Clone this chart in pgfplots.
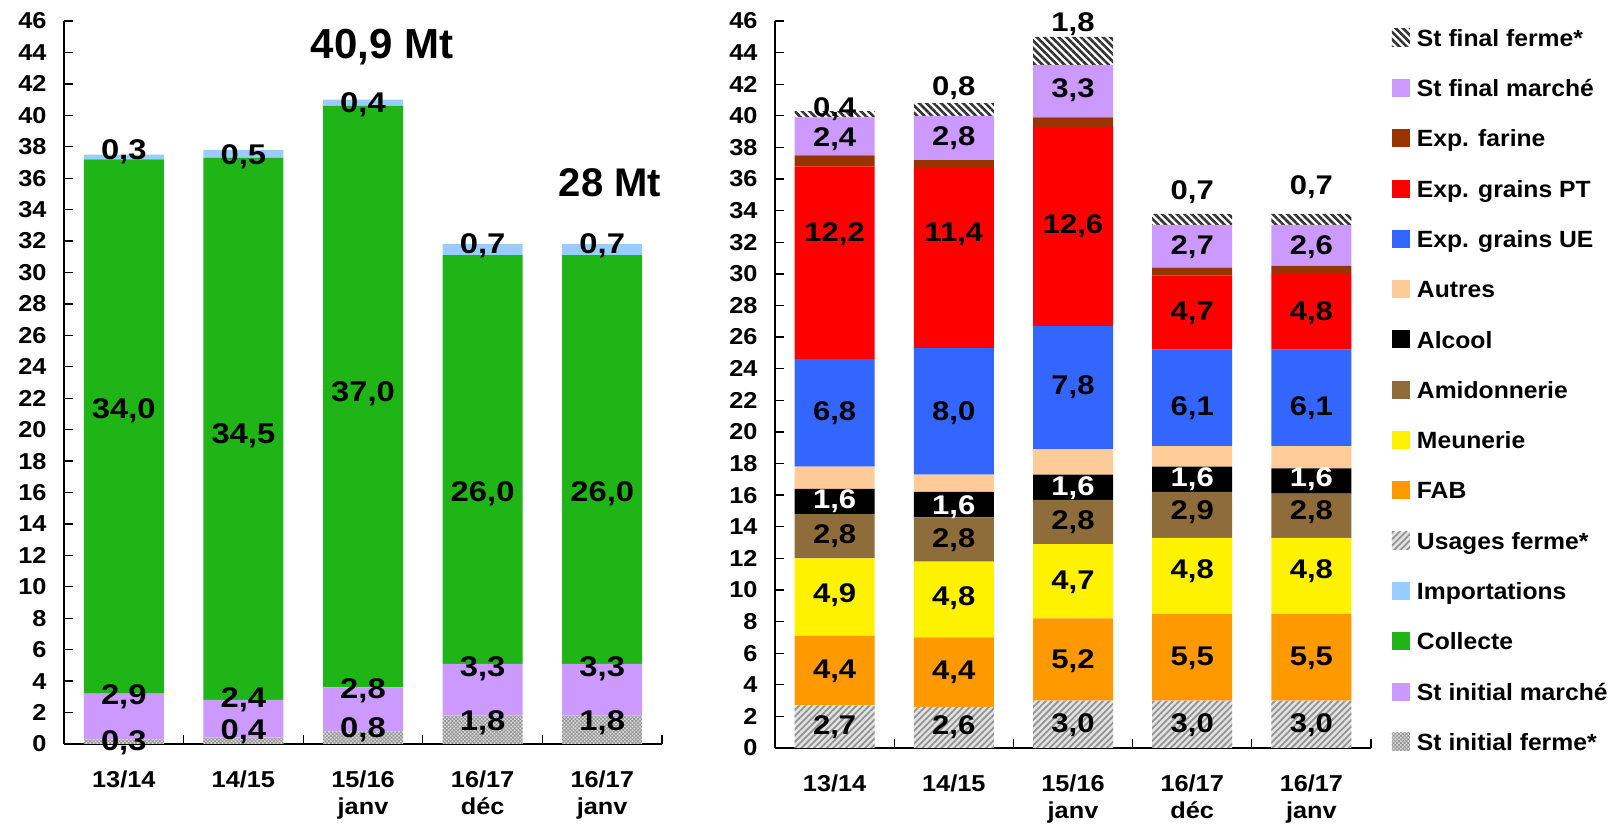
\documentclass[border=0pt]{standalone}
\usepackage{fontspec}
\setmainfont{Liberation Sans}
\newfontfamily\wide{Liberation Sans}[FakeStretch=1.1]
\newfontfamily\legfont{Liberation Sans}[FakeStretch=1.05]
\newfontfamily\labfont{Liberation Sans}[FakeStretch=1.15]
\usepackage{pgfplots}
\pgfplotsset{compat=1.18}
\usetikzlibrary{patterns.meta}

\definecolor{cGreen}{HTML}{1FB516}
\definecolor{cLav}{HTML}{CC99FF}
\definecolor{cImp}{HTML}{99CCFF}
\definecolor{cFAB}{HTML}{FF9900}
\definecolor{cMeun}{HTML}{FFF200}
\definecolor{cAmid}{HTML}{8E6D3B}
\definecolor{cAutres}{HTML}{FFCC99}
\definecolor{cUE}{HTML}{3366FF}
\definecolor{cPT}{HTML}{FF0000}
\definecolor{cFar}{HTML}{993300}

\tikzset{
  iniferme/.style={fill=gray!30, postaction={pattern={Hatch[angle=45,distance=2.6pt,line width=0.7pt]}, pattern color=gray!85}},
  usferme/.style={fill=gray!22, postaction={pattern={Lines[angle=45,distance=4.5pt,line width=1.8pt]}, pattern color=gray!85}},
  finferme/.style={fill=white, postaction={pattern={Lines[angle=-45,distance=5.2pt,line width=2.6pt]}, pattern color=black!80}},
}

\pgfplotsset{
  base/.style={
    scale only axis, anchor=south west,
    xmin=-0.5, xmax=4.5, ymin=0, ymax=46,
    axis x line=bottom, axis y line=left,
    axis line style={-, line width=1.5pt},
    ytick={0,2,...,46},
    tick align=inside, major tick length=9pt,
    tick style={black, line width=1.3pt},
    xtick={0.5,1.5,...,4.5}, xticklabels={},
    extra x ticks={0,1,2,3,4},
    extra x tick labels={13/14,14/15,15/16\\janv,16/17\\déc,16/17\\janv},
    extra x tick style={major tick length=0pt},
    xticklabel style={align=center, yshift=-23pt},
    yticklabel style={xshift=-14pt},
    ticklabel style={font=\wide\bfseries\fontsize{23}{27}\selectfont},
    /pgf/number format/assume math mode=true,
    clip=false,
    ybar stacked, bar width=80pt,
  },
  labels/.style={
    scale only axis, anchor=south west,
    xmin=-0.5, xmax=4.5, ymin=0, ymax=46,
    hide axis, clip=false,
  },
  lab/.style={
    only marks, mark=*, mark size=0pt, mark options={draw=none,fill=none},
    nodes near coords, point meta=explicit symbolic,
    nodes near coords align=center,
    every node near coord/.append style={inner sep=0pt, font=\labfont\bfseries\fontsize{#1}{#1}\selectfont},
  },
}

\begin{document}
\begin{tikzpicture}
\path[use as bounding box] (0,0) rectangle (1614pt,824pt);

% ---------------- left chart ----------------
\begin{axis}[base, at={(64pt,80pt)}, width=598pt, height=723pt]
\addplot[iniferme, draw=none] coordinates {(0,0.3)(1,0.4)(2,0.8)(3,1.8)(4,1.8)};
\addplot[fill=cLav, draw=none] coordinates {(0,2.9)(1,2.4)(2,2.8)(3,3.3)(4,3.3)};
\addplot[fill=cGreen, draw=none] coordinates {(0,34.0)(1,34.5)(2,37.0)(3,26.0)(4,26.0)};
\addplot[fill=cImp, draw=none] coordinates {(0,0.3)(1,0.5)(2,0.4)(3,0.7)(4,0.7)};
\end{axis}

\begin{axis}[labels, at={(64pt,80pt)}, width=598pt, height=723pt]
\addplot[lab=28.5] table[meta=l] {
x y l
0 0.06 0,3
0 3.0 2,9
0 21.2 34,0
0 37.66 0,3
1 0.78 0,4
1 2.8 2,4
1 19.6 34,5
1 37.36 0,5
2 0.9 0,8
2 3.4 2,8
2 22.3 37,0
2 40.65 0,4
3 1.33 1,8
3 4.77 3,3
3 15.9 26,0
3 31.7 0,7
4 1.33 1,8
4 4.77 3,3
4 15.9 26,0
4 31.7 0,7
};
\end{axis}

% ---------------- right chart ----------------
\begin{axis}[base, at={(775pt,76pt)}, width=596pt, height=727pt,
  reverse legend,
  legend cell align=left,
  legend image code/.code={\fill[#1, draw=none] (0pt,-0.4pt) rectangle (18pt,17.6pt);},
  legend style={draw=none, fill=none, at={(1.0352,0.9895)}, anchor=north west,
    inner sep=0pt, outer sep=0pt, row sep=27.7pt, column sep=7pt,
    font=\legfont\bfseries\fontsize{23.5}{27}\selectfont,
    nodes={inner sep=0pt, text height=17pt, text depth=5pt, anchor=base west}},
]
\addlegendimage{iniferme, draw=none}
\addlegendentry{St initial ferme*}
\addlegendimage{fill=cLav, draw=none}
\addlegendentry{St initial marché}
\addlegendimage{fill=cGreen, draw=none}
\addlegendentry{Collecte}
\addlegendimage{fill=cImp, draw=none}
\addlegendentry{Importations}
\addplot[usferme, draw=none] coordinates {(0,2.7)(1,2.6)(2,3.0)(3,3.0)(4,3.0)};
\addlegendentry{Usages ferme*}
\addplot[fill=cFAB, draw=none] coordinates {(0,4.4)(1,4.4)(2,5.2)(3,5.5)(4,5.5)};
\addlegendentry{FAB}
\addplot[fill=cMeun, draw=none] coordinates {(0,4.9)(1,4.8)(2,4.7)(3,4.8)(4,4.8)};
\addlegendentry{Meunerie}
\addplot[fill=cAmid, draw=none] coordinates {(0,2.8)(1,2.8)(2,2.8)(3,2.9)(4,2.8)};
\addlegendentry{Amidonnerie}
\addplot[fill=black, draw=none] coordinates {(0,1.6)(1,1.6)(2,1.6)(3,1.6)(4,1.6)};
\addlegendentry{Alcool}
\addplot[fill=cAutres, draw=none] coordinates {(0,1.4)(1,1.1)(2,1.6)(3,1.3)(4,1.4)};
\addlegendentry{Autres}
\addplot[fill=cUE, draw=none] coordinates {(0,6.8)(1,8.0)(2,7.8)(3,6.1)(4,6.1)};
\addlegendentry{Exp. grains UE}
\addplot[fill=cPT, draw=none] coordinates {(0,12.2)(1,11.4)(2,12.6)(3,4.7)(4,4.8)};
\addlegendentry{Exp. grains PT}
\addplot[fill=cFar, draw=none] coordinates {(0,0.7)(1,0.5)(2,0.6)(3,0.5)(4,0.5)};
\addlegendentry{Exp. farine}
\addplot[fill=cLav, draw=none] coordinates {(0,2.4)(1,2.8)(2,3.3)(3,2.7)(4,2.6)};
\addlegendentry{St final marché}
\addplot[finferme, draw=none] coordinates {(0,0.4)(1,0.8)(2,1.8)(3,0.7)(4,0.7)};
\addlegendentry{St final ferme*}
\end{axis}

\begin{axis}[labels, at={(775pt,76pt)}, width=596pt, height=727pt]
\addplot[lab=27] table[meta=l] {
x y l
0 1.3 2,7
0 4.85 4,4
0 9.7 4,9
0 13.4 2,8
0 21.2 6,8
0 32.5 12,2
0 38.55 2,4
0 40.4 0,4
1 1.3 2,6
1 4.8 4,4
1 9.5 4,8
1 13.15 2,8
1 21.2 8,0
1 32.5 11,4
1 38.6 2,8
1 41.75 0,8
2 1.46 3,0
2 5.5 5,2
2 10.5 4,7
2 14.3 2,8
2 22.8 7,8
2 33.0 12,6
2 41.6 3,3
2 45.8 1,8
3 1.46 3,0
3 5.7 5,5
3 11.2 4,8
3 14.9 2,9
3 21.5 6,1
3 27.5 4,7
3 31.7 2,7
3 35.2 0,7
4 1.46 3,0
4 5.7 5,5
4 11.2 4,8
4 14.9 2,8
4 21.5 6,1
4 27.5 4,8
4 31.7 2,6
4 35.5 0,7
};
\addplot[lab=27, every node near coord/.append style={text=white}] table[meta=l] {
x y l
0 15.6 1,6
1 15.25 1,6
2 16.45 1,6
3 17.0 1,6
4 17.0 1,6
};
\end{axis}

\node[font=\bfseries\fontsize{42}{42}\selectfont] at (382pt,777pt) {40,9 Mt};
\node[font=\bfseries\fontsize{40}{40}\selectfont] at (610pt,641pt) {28 Mt};
\end{tikzpicture}
\end{document}
